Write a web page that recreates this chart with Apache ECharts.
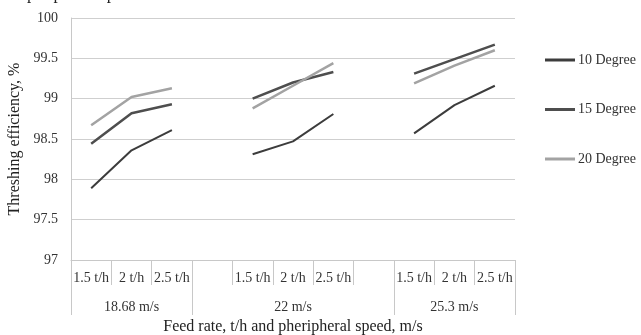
<!DOCTYPE html>
<html>
<head>
<meta charset="utf-8">
<script src="https://cdn.jsdelivr.net/npm/echarts@6/dist/echarts.min.js"></script>
<style>html,body{margin:0;padding:0;background:#fff;}#c{width:641px;height:335px;}</style>
</head>
<body>
<div id="c"></div>
<script>
var categories = ['1.5 t/h', '2 t/h', '2.5 t/h', '', '1.5 t/h', '2 t/h', '2.5 t/h', '', '1.5 t/h', '2 t/h', '2.5 t/h'];
var groupNames = ['', '18.68 m/s', '', '', '', '22 m/s', '', '', '', '25.3 m/s', ''];
var groupStarts = [0, 3, 8];
var deg10 = [97.89, 98.36, 98.61, '-', 98.31, 98.47, 98.81, '-', 98.57, 98.92, 99.16];
var deg15 = [98.44, 98.82, 98.93, '-', 99.0, 99.2, 99.33, '-', 99.31, 99.49, 99.67];
var deg20 = [98.67, 99.02, 99.13, '-', 98.88, 99.16, 99.44, '-', 99.19, 99.41, 99.6];
var yTicks = ['97', '97.5', '98', '98.5', '99', '99.5', '100'];

var font = 'Liberation Serif';
var chart = echarts.init(document.getElementById('c'), null, {renderer: 'canvas'});
chart.setOption({
  backgroundColor: '#fff',
  animation: false,
  title: {
    text: 'peripheral speed and feed rate',
    left: 22, top: -19,
    textStyle: {fontFamily: font, fontSize: 17, fontWeight: 'normal', color: '#222'}
  },
  grid: {left: 71, right: 126, top: 18, bottom: 75, outerBoundsMode: 'none', containLabel: false},
  legend: {
    orient: 'vertical',
    left: 540, top: 47,
    icon: 'rect',
    itemWidth: 30, itemHeight: 3, itemGap: 33.5,
    textStyle: {fontFamily: font, fontSize: 14, lineHeight: 16, color: '#333', padding: [0, 0, 0, -2]},
    data: ['10 Degree', '15 Degree', '20 Degree']
  },
  xAxis: [{
    type: 'category',
    data: categories,
    boundaryGap: true,
    axisLine: {show: true, lineStyle: {color: '#c8c8c8', width: 1}},
    axisTick: {show: true, length: 25, lineStyle: {color: '#c8c8c8'}},
    axisLabel: {interval: 0, margin: 11, fontFamily: font, fontSize: 14, color: '#333'},
    splitLine: {show: false},
    name: 'Feed rate, t/h and pheripheral speed, m/s',
    nameLocation: 'middle', nameGap: 59,
    nameTextStyle: {fontFamily: font, fontSize: 16, color: '#222'}
  }, {
    type: 'category',
    data: groupNames,
    position: 'bottom',
    boundaryGap: true,
    axisLine: {show: false},
    axisTick: {show: true, length: 55, interval: function (i) { return groupStarts.indexOf(i) >= 0; }, lineStyle: {color: '#c8c8c8'}},
    axisLabel: {interval: function (i, v) { return v !== ''; }, margin: 40, fontFamily: font, fontSize: 14, color: '#333'},
    splitLine: {show: false}
  }],
  yAxis: {
    type: 'value',
    min: 97, max: 100, interval: 0.5,
    axisLine: {show: true, lineStyle: {color: '#c8c8c8'}},
    axisTick: {show: false},
    axisLabel: {
      margin: 13, fontFamily: font, fontSize: 14, color: '#333',
      formatter: function (v) { var i = Math.round((v - 97) / 0.5); return yTicks[i]; }
    },
    splitLine: {show: true, lineStyle: {color: '#cfcfcf', width: 1}},
    name: 'Threshing efficiency, %',
    nameLocation: 'middle', nameGap: 48,
    nameTextStyle: {fontFamily: font, fontSize: 16, color: '#222'}
  },
  series: [{
    name: '10 Degree', type: 'line', data: deg10, symbol: 'none',
    lineStyle: {color: '#3c3c3c', width: 2}, itemStyle: {color: '#3c3c3c'}
  }, {
    name: '15 Degree', type: 'line', data: deg15, symbol: 'none',
    lineStyle: {color: '#4e4e4e', width: 2.5}, itemStyle: {color: '#4e4e4e'}
  }, {
    name: '20 Degree', type: 'line', data: deg20, symbol: 'none',
    lineStyle: {color: '#a3a3a3', width: 2.5}, itemStyle: {color: '#a3a3a3'}
  }]
});
</script>
</body>
</html>
